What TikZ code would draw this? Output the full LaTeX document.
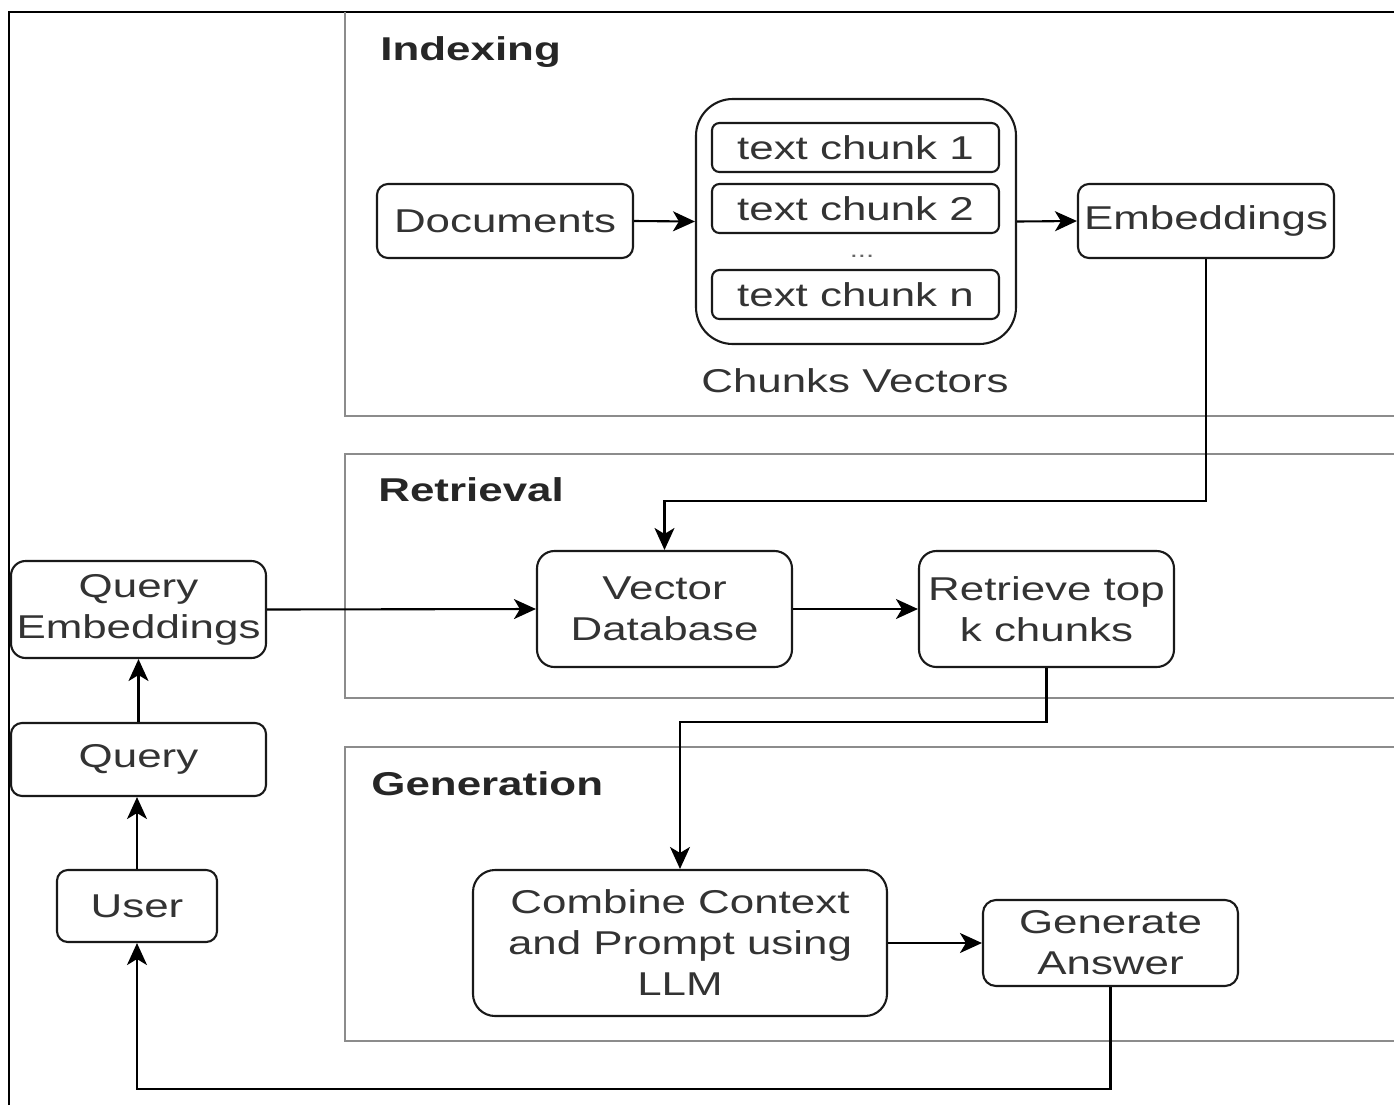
\documentclass[tikz,border=0pt]{standalone}
\usepackage{fontspec}
\setmainfont{Liberation Sans}[FakeStretch=1.33]
\usetikzlibrary{arrows.meta}
\begin{document}
\begin{tikzpicture}[x=0.5pt,y=-0.5pt,
  box/.style={draw=black!90, line width=1.05pt, rounded corners=#1, align=center,
    inner sep=0pt, text=black!80, font=\fontsize{16.5pt}{20.5pt}\selectfont},
  box/.default=5.5pt,
  lbl/.style={inner sep=0pt, text=black!80, font=\fontsize{16.5pt}{20.5pt}\selectfont},
  title/.style={inner sep=0pt, text=black!85, font=\fontsize{16.5pt}{20.5pt}\selectfont\bfseries, anchor=base west},
  sec/.style={draw=black!45, line width=0.8pt},
  arr/.style={-{Stealth[length=11pt,width=10pt,inset=3pt]}, line width=1.05pt, draw=black}]
\useasboundingbox (0,0) rectangle (1394,1105);
% frame
\draw[line width=1.4pt] (9,1105) -- (9,12) -- (1394,12);
% sections
\draw[sec] (345,12) -- (345,416) -- (1394,416);
\draw[sec] (1394,454) -- (345,454) -- (345,698) -- (1394,698);
\draw[sec] (1394,747) -- (345,747) -- (345,1041) -- (1394,1041);
\node[title] (tIdx) at (380,60) {Indexing};
\node[title] (tRet) at (378,501) {Retrieval};
\node[title] (tGen) at (371,795) {Generation};
% indexing
\node[box, minimum width=128pt, minimum height=37pt] (doc) at (505,221) {Documents};
\node[box=18.4pt, minimum width=160pt, minimum height=122.5pt] (chunks) at (856,221.5) {};
\node[box=3.7pt, minimum width=143.5pt, minimum height=24.5pt] (c1) at (855.5,147.5) {text chunk 1};
\node[box=3.7pt, minimum width=143.5pt, minimum height=24.5pt] (c2) at (855.5,208.5) {text chunk 2};
\node[lbl, anchor=base, text=black!60, font=\fontsize{11pt}{12pt}\selectfont] (dots) at (862,257) {...};
\node[box=3.7pt, minimum width=143.5pt, minimum height=24.5pt] (cn) at (855.5,294.5) {text chunk n};
\node[lbl, anchor=base] (cvl) at (855,392) {Chunks Vectors};
\node[box, minimum width=128pt, minimum height=37pt] (emb) at (1206,221) {Embeddings};
% retrieval
\node[box=8.7pt, minimum width=127.5pt, minimum height=58pt] (vdb) at (664.5,609) {Vector\\Database};
\node[box=8.7pt, minimum width=127.5pt, minimum height=58pt] (ret) at (1046.5,609) {Retrieve top\\k chunks};
% left column
\node[box=7.3pt, minimum width=127.5pt, minimum height=48.5pt] (qe) at (138.5,609.5) {Query\\Embeddings};
\node[box, minimum width=127.5pt, minimum height=36.5pt] (q) at (138.5,759.5) {Query};
\node[box=5.4pt, minimum width=80pt, minimum height=36pt] (user) at (137,906) {User};
% generation
\node[box=11pt, minimum width=207pt, minimum height=73pt] (comb) at (680,943) {Combine Context\\and Prompt using\\LLM};
\node[box=6.5pt, minimum width=127.5pt, minimum height=43pt] (gen) at (1110.5,943) {Generate\\Answer};
% connectors
\coordinate (k1) at (1206,501);
\coordinate (k2) at (664.5,501);
\coordinate (k3) at (1046.5,722);
\coordinate (k4) at (680,722);
\coordinate (k5) at (1110.5,1089);
\coordinate (k6) at (137,1089);
\draw[arr] (doc.east) -- (chunks.west);
\draw[arr] (chunks.east) -- (emb.west);
\draw[arr] (emb.south) -- (k1) -- (k2) -- (vdb.north);
\draw[arr] (qe.east) -- (vdb.west);
\draw[arr] (vdb.east) -- (ret.west);
\draw[arr] (ret.south) -- (k3) -- (k4) -- (comb.north);
\draw[arr] (comb.east) -- (gen.west);
\draw[arr] (gen.south) -- (k5) -- (k6) -- (user.south);
\draw[arr] (user.north) -- (user.north |- q.south);
\draw[arr] (q.north) -- (q.north |- qe.south);
\end{tikzpicture}
\end{document}
